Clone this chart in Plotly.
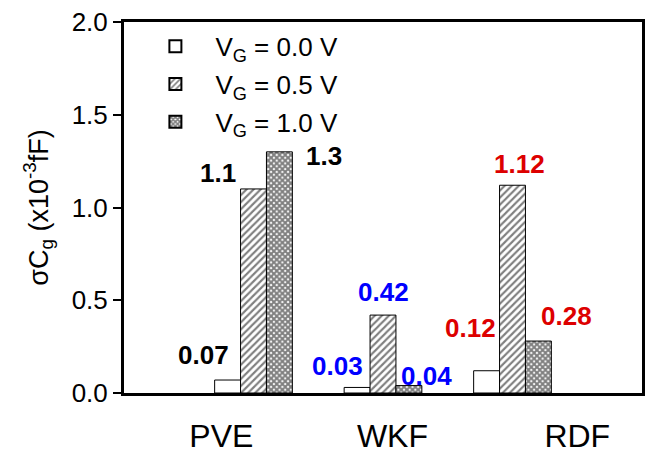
import plotly.graph_objects as go

# ---- data ----
categories = ["PVE", "WKF", "RDF"]
series_names = ["V<sub>G</sub> = 0.0 V", "V<sub>G</sub> = 0.5 V", "V<sub>G</sub> = 1.0 V"]
vg00 = [0.07, 0.03, 0.12]
vg05 = [1.10, 0.42, 1.12]
vg10 = [1.30, 0.04, 0.28]
y_ticks = [0.0, 0.5, 1.0, 1.5, 2.0]

# ---- styles / layout ----
FONT = "Liberation Sans, Arial, sans-serif"
label_colors = ["#000000", "#0000ff", "#dd0000"]      # per category
patterns = [dict(shape=""),
            dict(shape="/", size=5, solidity=0.42, fgcolor="black", bgcolor="white"),
            dict(shape="x", size=4, solidity=0.75, fgcolor="black", bgcolor="white")]
# pixel offsets of value labels (series x category)
label_dx = [[-24, -20, -16], [-36, 0, 7], [45, 18, 28]]
label_dy = [[25, 21, 43], [16, 23, 21], [-4, 10, 25]]
cat_label_pos = [0.752, 2.073, 3.50]
bar_w = 0.2

series = [vg00, vg05, vg10]
group_pos = [i + 1 for i in range(len(categories))]

fig = go.Figure()
for j, (name, vals) in enumerate(zip(series_names, series)):
    fig.add_trace(go.Bar(
        x=group_pos, y=vals, name=name, width=bar_w, legendgroup=f"g{j}",
        marker=dict(color="white", line=dict(color="black", width=1), pattern=patterns[j]),
    ))

annotations = []
for j, vals in enumerate(series):
    off = (j - 1) * bar_w
    for i, v in enumerate(vals):
        annotations.append(dict(
            x=group_pos[i] + off, y=v, xref="x", yref="y",
            text=f"{v:g}", showarrow=False,
            xshift=label_dx[j][i], yshift=label_dy[j][i],
            xanchor="center", yanchor="middle",
            font=dict(family=FONT, size=26, color=label_colors[i], weight="bold"),
        ))

fig.update_layout(
    width=652, height=461,
    margin=dict(l=124, r=7, t=22, b=61),
    paper_bgcolor="white", plot_bgcolor="white",
    barmode="group", bargap=0.4, bargroupgap=0,
    font=dict(family=FONT, color="black"),
    showlegend=True,
    legend=dict(x=0.022, y=0.998, xanchor="left", yanchor="top",
                font=dict(family=FONT, size=26), bgcolor="rgba(0,0,0,0)",
                itemwidth=70, itemsizing="constant", tracegroupgap=1),
    annotations=annotations,
)
fig.update_xaxes(
    range=[0, 4], tickvals=cat_label_pos, ticktext=categories,
    ticks="", showgrid=False, zeroline=False,
    showline=True, linecolor="black", linewidth=3, mirror=True,
    tickfont=dict(family=FONT, size=32), ticklabelstandoff=13,
)
fig.update_yaxes(
    range=[0, 2], tickvals=y_ticks, tickformat=".1f",
    ticks="outside", ticklen=8, tickwidth=2, tickcolor="black",
    showgrid=False, zeroline=False,
    showline=True, linecolor="black", linewidth=3, mirror=True,
    tickfont=dict(family=FONT, size=26),
    title=dict(text="σC<sub>g</sub> (x10<sup>-3</sup>fF)", font=dict(family=FONT, size=27), standoff=16),
)

fig.write_html("out.html")
